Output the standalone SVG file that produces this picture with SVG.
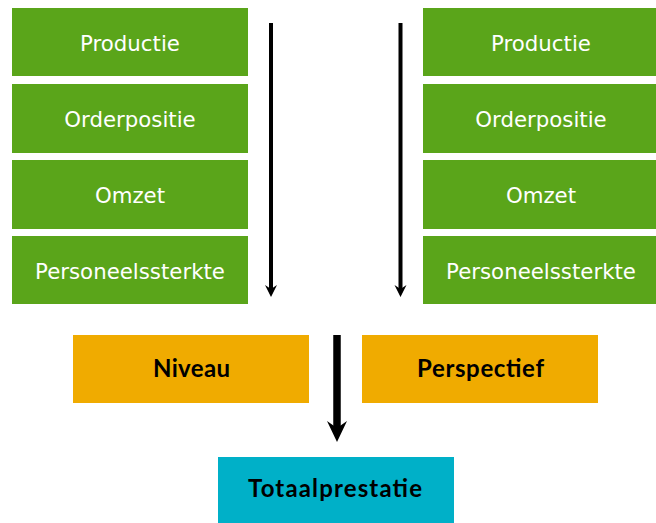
<svg xmlns="http://www.w3.org/2000/svg" width="656" height="523" viewBox="0 0 656 523">
<style>
.g{fill:#5AA51A}
.o{fill:#F0AB00}
.t{fill:#00B0C8}
.wt{font-family:"DejaVu Sans",Verdana,sans-serif;font-size:21.3px;fill:#FFFFFF;text-anchor:middle}
.bt{font-family:Lato,"DejaVu Sans",sans-serif;font-weight:bold;font-size:24px;fill:#000000;text-anchor:middle}
.ln{stroke:#000;fill:none}
</style>
<g id="connectors">
<line class="ln" x1="271" y1="23" x2="271" y2="289" stroke-width="4"/>
<path d="M265,285 L271,289 L277,285 L271,297 Z" fill="#000"/>
<line class="ln" x1="400.5" y1="23" x2="400.5" y2="289" stroke-width="4"/>
<path d="M394.5,285 L400.5,289 L406.5,285 L400.5,297 Z" fill="#000"/>
<line class="ln" x1="337" y1="335" x2="337" y2="428" stroke-width="7.5"/>
<path d="M327,421 L337,428 L347,421 L337,442 Z" fill="#000"/>
</g>
<g id="l-productie"><rect class="g" x="12" y="8" width="236" height="68"/><text class="wt" x="130" y="51">Productie</text></g>
<g id="l-orderpositie"><rect class="g" x="12" y="84" width="236" height="69"/><text class="wt" x="130" y="127">Orderpositie</text></g>
<g id="l-omzet"><rect class="g" x="12" y="160" width="236" height="69"/><text class="wt" x="130" y="203">Omzet</text></g>
<g id="l-personeelssterkte"><rect class="g" x="12" y="236" width="236" height="68"/><text class="wt" x="130" y="279">Personeelssterkte</text></g>
<g id="r-productie"><rect class="g" x="423" y="8" width="236" height="68"/><text class="wt" x="541" y="51">Productie</text></g>
<g id="r-orderpositie"><rect class="g" x="423" y="84" width="236" height="69"/><text class="wt" x="541" y="127">Orderpositie</text></g>
<g id="r-omzet"><rect class="g" x="423" y="160" width="236" height="69"/><text class="wt" x="541" y="203">Omzet</text></g>
<g id="r-personeelssterkte"><rect class="g" x="423" y="236" width="236" height="68"/><text class="wt" x="541" y="279">Personeelssterkte</text></g>
<g id="niveau"><rect class="o" x="73" y="335" width="236" height="68"/><text class="bt" x="191.5" y="377" textLength="77" lengthAdjust="spacing">Niveau</text></g>
<g id="perspectief"><rect class="o" x="362" y="335" width="236" height="68"/><text class="bt" x="480.5" y="377" textLength="127" lengthAdjust="spacing">Perspectief</text></g>
<g id="totaalprestatie"><rect class="t" x="218" y="457" width="236" height="66"/><text class="bt" x="335" y="497" textLength="174" lengthAdjust="spacing">Totaalprestatie</text></g>
</svg>
